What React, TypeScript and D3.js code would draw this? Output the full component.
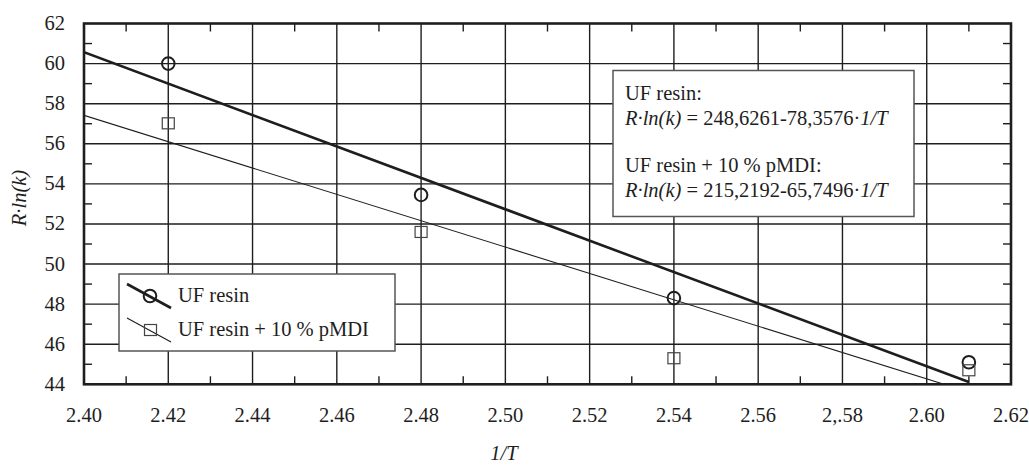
import React, { useEffect, useRef } from 'react';
import * as d3 from 'd3';

// measured points (1/T vs R·ln(k))
const invT = [2.42, 2.48, 2.54, 2.61];
const ufResin = [60.0, 53.45, 48.3, 45.1];
const ufPmdi = [57.02, 51.6, 45.3, 44.7];

// fitted lines: R·ln(k) = a - b·1/T
const fitIntercept = [248.6261, 215.2192];
const fitSlope = [78.3576, 65.7496];
const fitRange = [2.40, 2.61];

const xTicks = [2.40, 2.42, 2.44, 2.46, 2.48, 2.50, 2.52, 2.54, 2.56, 2.58, 2.60, 2.62];
const xTickLabels = ['2.40', '2.42', '2.44', '2.46', '2.48', '2.50', '2.52', '2.54', '2.56', '2,.58', '2.60', '2.62'];
const yTicks = [44, 46, 48, 50, 52, 54, 56, 58, 60, 62];
const xMinor = [2.41, 2.43, 2.45, 2.47, 2.49, 2.51, 2.53, 2.55, 2.57, 2.59, 2.61];
const yMinor = [45, 47, 49, 51, 53, 55, 57, 59, 61];

const seriesNames = ['UF resin', 'UF resin + 10 % pMDI'];
const equationConst = ['248,6261-78,3576', '215,2192-65,7496'];

const App = () => {
  const svgRef = useRef<SVGSVGElement>(null);

  useEffect(() => {
    const W = 1029, H = 471;
    const left = 84, right = 1011, top = 23.5, bottom = 384.3;
    const ink = '#1e1e1e';

    d3.select(svgRef.current).selectAll('*').remove();
    const svg = d3.select(svgRef.current)
      .attr('width', W)
      .attr('height', H)
      .style('font-family', "'Times New Roman', 'Liberation Serif', Tinos, serif")
      .style('font-size', '20.5px');

    svg.append('rect').attr('width', W).attr('height', H).attr('fill', '#fff');

    const x = d3.scaleLinear().domain([2.40, 2.62]).range([left, right]);
    const y = d3.scaleLinear().domain([44, 62]).range([bottom, top]);

    svg.append('defs').append('clipPath').attr('id', 'plot-clip')
      .append('rect')
      .attr('x', left).attr('y', top)
      .attr('width', right - left).attr('height', bottom - top);

    // Grid
    svg.append('g').selectAll('line')
      .data(xTicks.slice(1, -1))
      .enter().append('line')
      .attr('x1', d => x(d)).attr('x2', d => x(d))
      .attr('y1', top).attr('y2', bottom)
      .attr('stroke', ink).attr('stroke-width', 1.4);
    svg.append('g').selectAll('line')
      .data(yTicks.slice(1, -1))
      .enter().append('line')
      .attr('x1', left).attr('x2', right)
      .attr('y1', d => y(d)).attr('y2', d => y(d))
      .attr('stroke', ink).attr('stroke-width', 1.4);

    // Minor ticks, inward on every side
    const tickLen = 8;
    const ticks = svg.append('g').attr('stroke', ink).attr('stroke-width', 1.4);
    xMinor.forEach(v => {
      ticks.append('line').attr('x1', x(v)).attr('x2', x(v)).attr('y1', bottom).attr('y2', bottom - tickLen);
      ticks.append('line').attr('x1', x(v)).attr('x2', x(v)).attr('y1', top).attr('y2', top + tickLen);
    });
    yMinor.forEach(v => {
      ticks.append('line').attr('x1', left).attr('x2', left + tickLen).attr('y1', y(v)).attr('y2', y(v));
      ticks.append('line').attr('x1', right).attr('x2', right - tickLen).attr('y1', y(v)).attr('y2', y(v));
    });

    // Fitted lines
    const fits = svg.append('g').attr('clip-path', 'url(#plot-clip)');
    fitIntercept.forEach((a, i) => {
      const pts: [number, number][] = fitRange.map(t => [x(t), y(a - fitSlope[i] * t)]);
      fits.append('path')
        .attr('d', d3.line()(pts))
        .attr('fill', 'none')
        .attr('stroke', ink)
        .attr('stroke-width', i === 0 ? 2.6 : 1.1);
    });

    // Markers
    svg.append('g').selectAll('circle')
      .data(invT)
      .enter().append('circle')
      .attr('cx', d => x(d))
      .attr('cy', (d, i) => y(ufResin[i]))
      .attr('r', 6.3)
      .attr('fill', 'none')
      .attr('stroke', ink)
      .attr('stroke-width', 2);
    svg.append('g').selectAll('rect')
      .data(invT)
      .enter().append('rect')
      .attr('x', d => x(d) - 6)
      .attr('y', (d, i) => y(ufPmdi[i]) - 5.5)
      .attr('width', 12)
      .attr('height', 11)
      .attr('fill', 'none')
      .attr('stroke', '#444')
      .attr('stroke-width', 1.2);

    // Frame
    svg.append('rect')
      .attr('x', left).attr('y', top)
      .attr('width', right - left).attr('height', bottom - top)
      .attr('fill', 'none')
      .attr('stroke', ink)
      .attr('stroke-width', 2.6);

    // Tick labels
    svg.append('g').selectAll('text')
      .data(xTicks)
      .enter().append('text')
      .attr('x', d => x(d))
      .attr('y', 422)
      .attr('text-anchor', 'middle')
      .attr('fill', ink)
      .text((d, i) => xTickLabels[i]);
    svg.append('g').selectAll('text')
      .data(yTicks)
      .enter().append('text')
      .attr('x', 65)
      .attr('y', d => y(d) + 6.5)
      .attr('text-anchor', 'end')
      .attr('fill', ink)
      .text(d => d);

    // Axis titles
    svg.append('text')
      .attr('x', 504)
      .attr('y', 460)
      .attr('text-anchor', 'middle')
      .style('font-style', 'italic')
      .attr('fill', ink)
      .text('1/T');
    svg.append('text')
      .attr('transform', 'translate(26,198) rotate(-90)')
      .attr('text-anchor', 'middle')
      .style('font-style', 'italic')
      .attr('fill', ink)
      .text('R·ln(k)');

    // Legend
    const lg = svg.append('g');
    lg.append('rect')
      .attr('x', 119).attr('y', 274)
      .attr('width', 276).attr('height', 77)
      .attr('fill', '#fff')
      .attr('stroke', '#555')
      .attr('stroke-width', 1.5);
    seriesNames.forEach((name, i) => {
      const cy = 296 + i * 34;
      lg.append('line')
        .attr('x1', 127).attr('x2', 171)
        .attr('y1', cy - 12).attr('y2', cy + 12)
        .attr('stroke', ink)
        .attr('stroke-width', i === 0 ? 2.6 : 1.1);
      if (i === 0) {
        lg.append('circle').attr('cx', 150).attr('cy', cy).attr('r', 6.3)
          .attr('fill', 'none').attr('stroke', ink).attr('stroke-width', 2);
      } else {
        lg.append('rect').attr('x', 144.5).attr('y', cy - 5.5).attr('width', 12).attr('height', 11)
          .attr('fill', 'none').attr('stroke', '#444').attr('stroke-width', 1.2);
      }
      lg.append('text')
        .attr('x', 178).attr('y', cy + 6)
        .attr('fill', ink)
        .text(name);
    });

    // Equation box
    const eq = svg.append('g');
    eq.append('rect')
      .attr('x', 613).attr('y', 70.5)
      .attr('width', 301).attr('height', 146)
      .attr('fill', '#fff')
      .attr('stroke', '#555')
      .attr('stroke-width', 1.5);
    seriesNames.forEach((name, i) => {
      const base = 100 + i * 71.7;
      eq.append('text')
        .attr('x', 625).attr('y', base)
        .attr('fill', ink)
        .text(name + ':');
      const t = eq.append('text')
        .attr('x', 625).attr('y', base + 25)
        .attr('fill', ink);
      t.append('tspan').style('font-style', 'italic').text('R·ln(k)');
      t.append('tspan').text(` = ${equationConst[i]}·`);
      t.append('tspan').style('font-style', 'italic').text('1/T');
    });
  }, []);

  return (
    <div style={{ position: 'absolute', left: 0, top: 0 }}>
      <svg ref={svgRef}></svg>
    </div>
  );
};

export default App;
